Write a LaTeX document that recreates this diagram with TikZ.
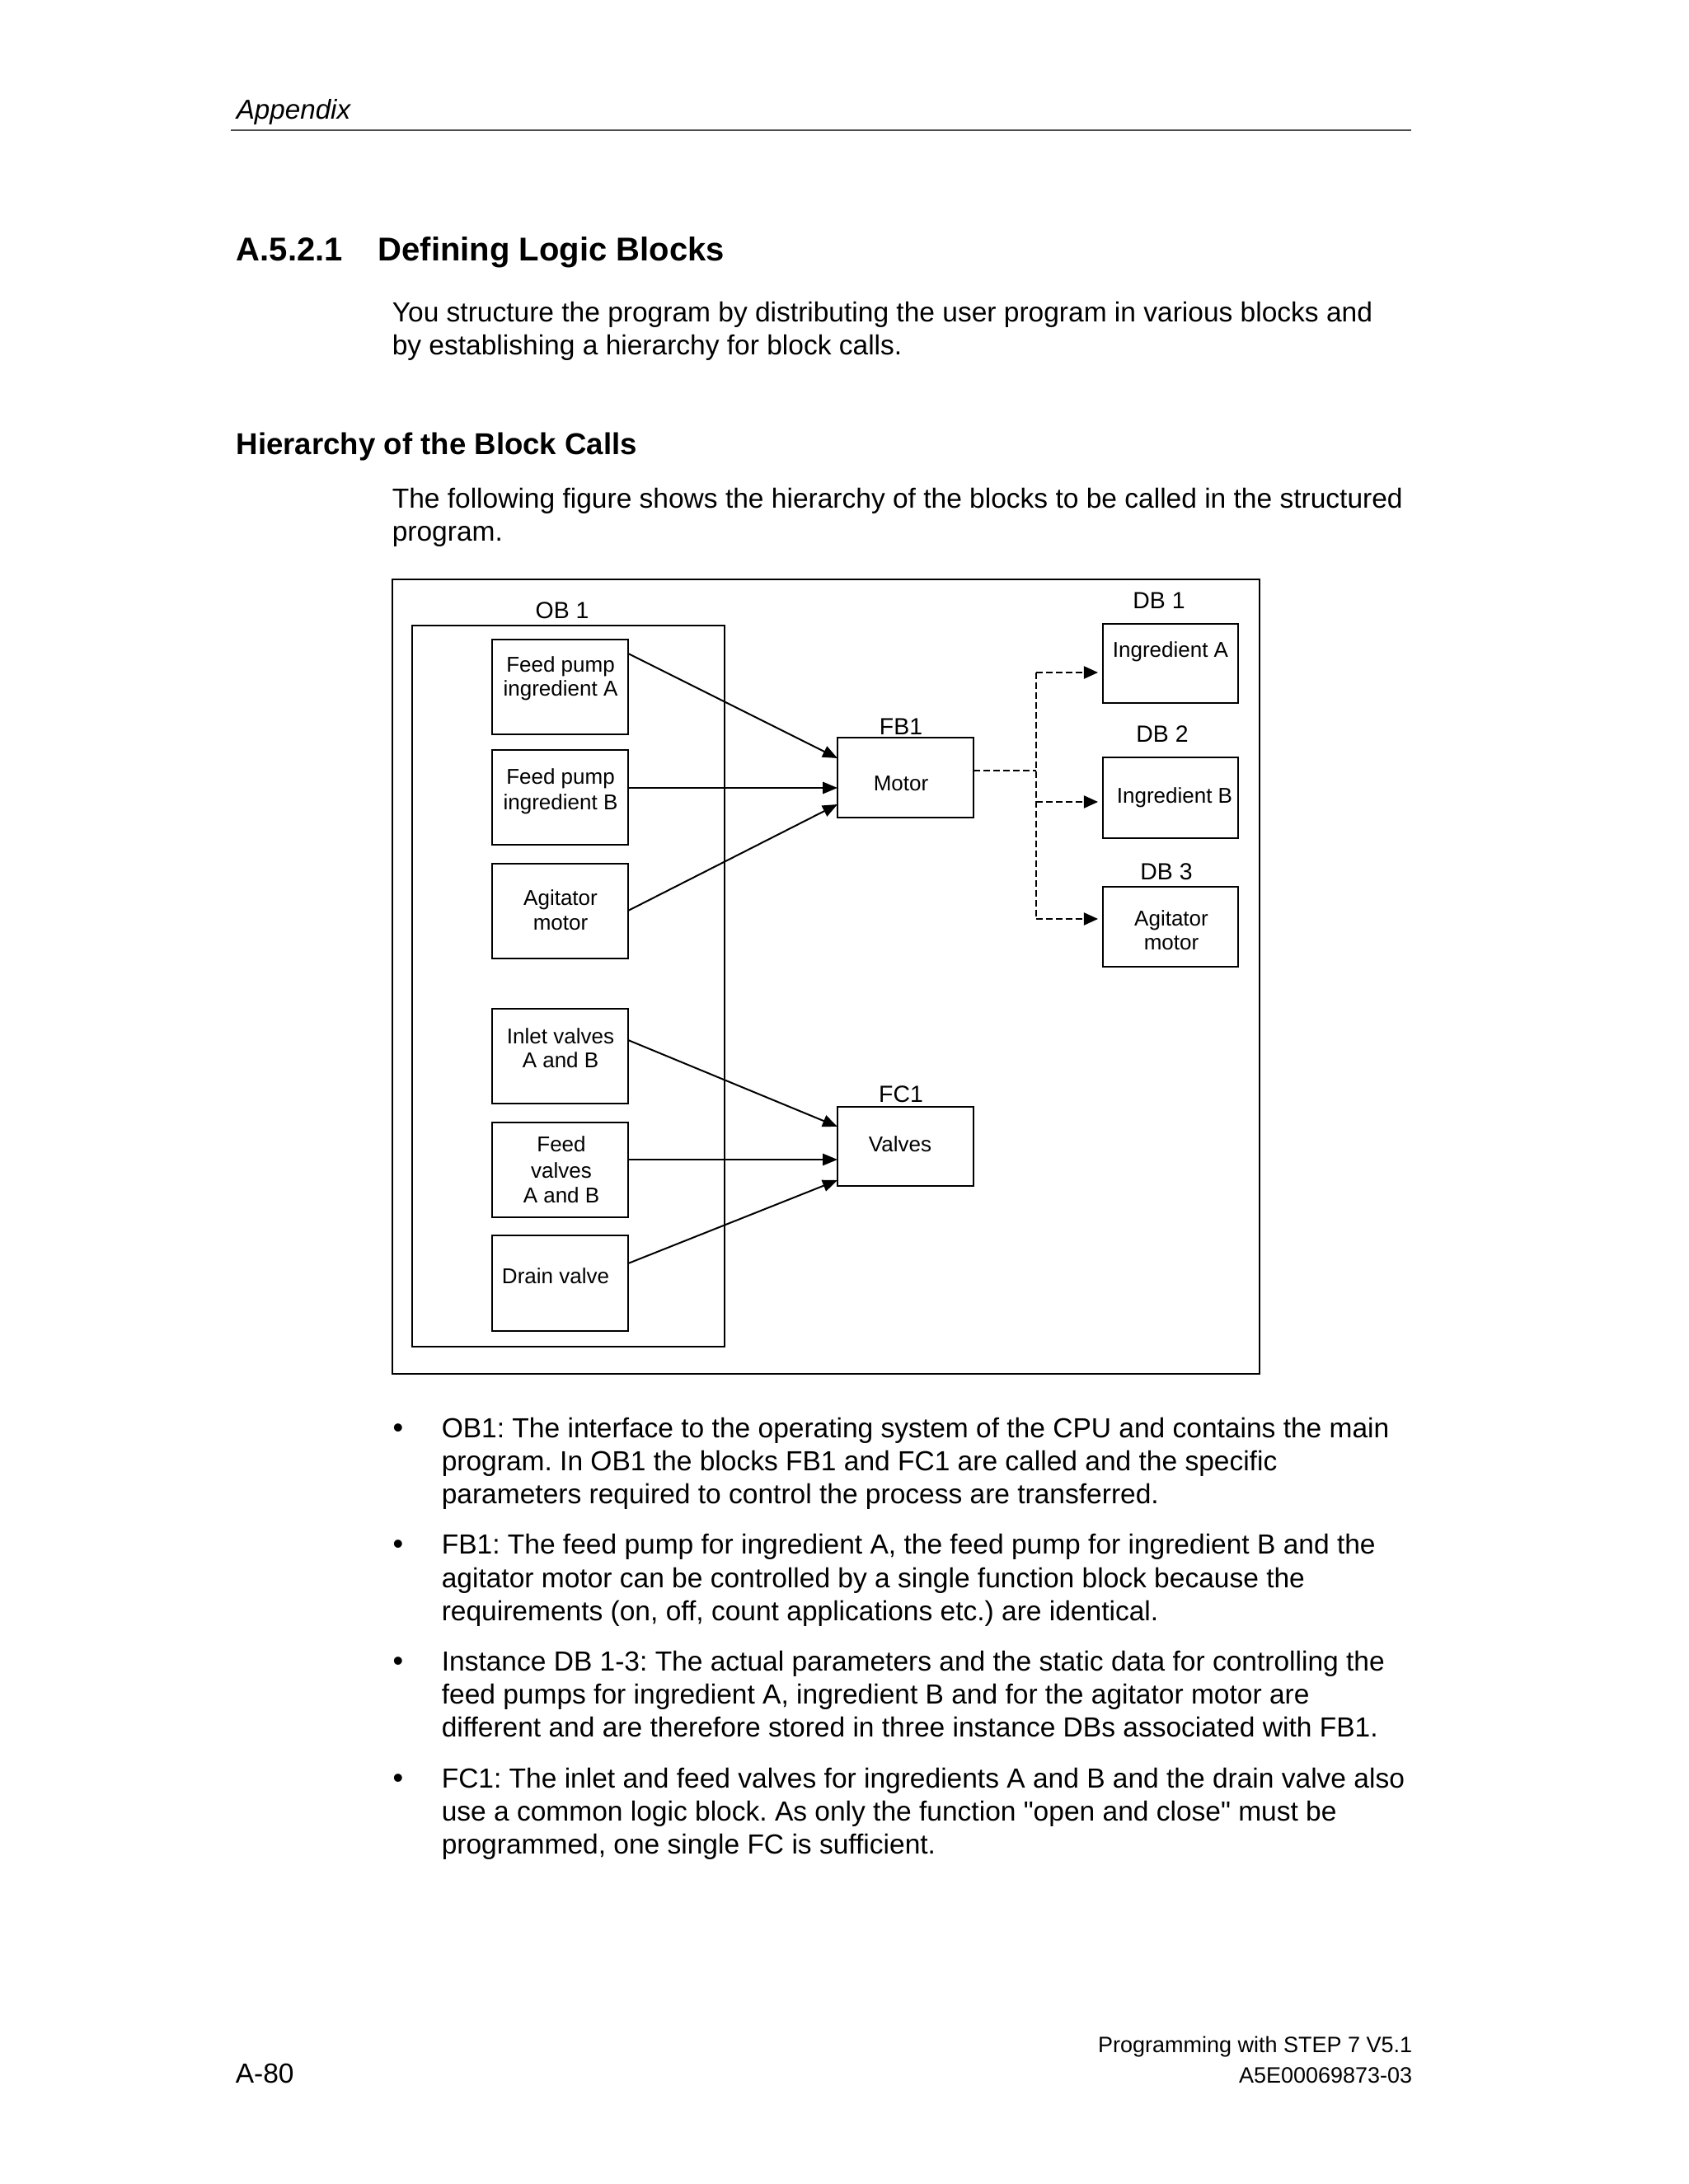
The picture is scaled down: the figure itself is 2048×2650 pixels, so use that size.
\documentclass[tikz,border=0pt]{standalone}
\usepackage{fontspec}
\setmainfont{Liberation Sans}
\usetikzlibrary{arrows.meta,calc,fit}
\frenchspacing
\begin{document}
\frenchspacing
\begin{tikzpicture}[x=0.25pt,y=-0.25pt,
  box/.style={draw, line width=0.5pt, inner sep=0pt, outer sep=0pt},
  body/.style={font=\fontsize{8.38}{10}\selectfont, inner sep=0pt, anchor=base west},
  head/.style={font=\fontsize{10}{12}\selectfont\bfseries, inner sep=0pt, anchor=base west},
  subhead/.style={font=\fontsize{9.15}{11}\selectfont\bfseries, inner sep=0pt, anchor=base west},
  foot/.style={font=\fontsize{6.75}{8}\selectfont, inner sep=0pt, anchor=base east},
  lab/.style={font=\fontsize{7.1}{8.5}\selectfont, inner sep=0pt, anchor=base},
  btxt/.style={font=\fontsize{6.5}{7.5}\selectfont, inner sep=0pt, anchor=base},
  bul/.style={font=\fontsize{9}{10}\selectfont, inner sep=0pt, anchor=base},
  arr/.style={line width=0.5pt, -{Triangle[length=4.5pt,width=3.6pt]}},
  dline/.style={line width=0.5pt, dash pattern=on 2pt off 1pt},
  darr/.style={dline, -{Triangle[length=4.3pt,width=3.8pt]}, shorten >=1.5pt}
]
\useasboundingbox (0,0) rectangle (2048,2650);
\fill[white] (0,0) rectangle (2048,2650);

% page header
\node[body, font=\fontsize{8.3}{10}\selectfont\itshape] (hdr) at (286,145) {Appendix};
\coordinate (ruleL) at (280,158);
\coordinate (ruleR) at (1712,158);
\draw[line width=0.4pt, black!70] (ruleL) -- (ruleR);

% headings and paragraphs
\node[head] (secno) at (286,317) {A.5.2.1};
\node[head] (sectitle) at (458,317) {Defining Logic Blocks};
\node[body] (p1a) at (475,391) {You structure the program by distributing the user program in various blocks and};
\node[body] (p1b) at (475,431) {by establishing a hierarchy for block calls.};
\node[subhead] (sub) at (286,552) {Hierarchy of the Block Calls};
\node[body] (p2a) at (475,617) {The following figure shows the hierarchy of the blocks to be called in the structured};
\node[body] (p2b) at (475,657) {program.};

% figure frame
\node[box, fit={(476,703) (1528,1667)}] (outer) {};
\node[box, fit={(500,759) (879,1634)}] (ob1) {};
\node[lab] (ob1lab) at (682,751) {OB 1};

% OB1 blocks
\node[box, fit={(597,776) (762,891)}] (fpa) {};
\node[btxt] (fpat1) at (680,816) {Feed pump};
\node[btxt] (fpat2) at (680,845) {ingredient A};
\node[box, fit={(597,910) (762,1025)}] (fpb) {};
\node[btxt] (fpbt1) at (680,952) {Feed pump};
\node[btxt] (fpbt2) at (680,982) {ingredient B};
\node[box, fit={(597,1048) (762,1163)}] (agi) {};
\node[btxt] (agit1) at (680,1098) {Agitator};
\node[btxt] (agit2) at (680,1128) {motor};
\node[box, fit={(597,1224) (762,1339)}] (inl) {};
\node[btxt] (inlt1) at (680,1266) {Inlet valves};
\node[btxt] (inlt2) at (680,1295) {A and B};
\node[box, fit={(597,1362) (762,1477)}] (fdv) {};
\node[btxt] (fdvt1) at (681,1397) {Feed};
\node[btxt] (fdvt2) at (681,1429) {valves};
\node[btxt] (fdvt3) at (681,1459) {A and B};
\node[box, fit={(597,1499) (762,1615)}] (drn) {};
\node[btxt] (drnt) at (674,1557) {Drain valve};

% FB1 and FC1
\node[box, fit={(1016,895) (1181,992)}] (motor) {};
\node[lab] (fb1lab) at (1093,892) {FB1};
\node[btxt] (motort) at (1093,960) {Motor};
\node[box, fit={(1016,1343) (1181,1439)}] (valves) {};
\node[lab] (fc1lab) at (1093,1337) {FC1};
\node[btxt] (valvest) at (1092,1397) {Valves};

% DBs
\node[box, fit={(1338,757) (1502,853)}] (db1) {};
\node[lab] (db1lab) at (1406,739) {DB 1};
\node[btxt] (db1t) at (1420,798) {Ingredient A};
\node[box, fit={(1338,919) (1502,1017)}] (db2) {};
\node[lab] (db2lab) at (1410,901) {DB 2};
\node[btxt] (db2t) at (1425,975) {Ingredient B};
\node[box, fit={(1338,1076) (1502,1173)}] (db3) {};
\node[lab] (db3lab) at (1415,1067) {DB 3};
\node[btxt] (db3t1) at (1421,1123) {Agitator};
\node[btxt] (db3t2) at (1421,1152) {motor};

% calls to FB1
\draw[arr] ($(fpa.north east)+(0,17)$) -- ($(motor.north west)+(0,25)$);
\draw[arr] ($(fpb.north east)+(0,46)$) -- ($(motor.north west)+(0,61)$);
\draw[arr] ($(agi.north east)+(0,57)$) -- ($(motor.north west)+(0,81)$);
% calls to FC1
\draw[arr] ($(inl.north east)+(0,38)$) -- ($(valves.north west)+(0,24)$);
\draw[arr] ($(fdv.north east)+(0,45)$) -- ($(valves.north west)+(0,64)$);
\draw[arr] ($(drn.north east)+(0,34)$) -- ($(valves.north west)+(0,89)$);

% instance DBs
\coordinate (split) at (1257,935);
\coordinate (a1) at ($(db1.north west)+(0,59)$);
\coordinate (a2) at ($(db2.north west)+(0,54)$);
\coordinate (a3) at ($(db3.north west)+(0,39)$);
\draw[dline] ($(motor.north east)+(0,40)$) -- (split);
\draw[dline] (split |- a1) -- (split |- a3);
\draw[darr] (split |- a1) -- (a1);
\draw[darr] (split |- a2) -- (a2);
\draw[darr] (split |- a3) -- (a3);

% bullet list
\node[bul] (bu1) at (483,1744) {\textbullet};
\node[body] (b1a) at (535,1744) {OB1: The interface to the operating system of the CPU and contains the main};
\node[body] (b1b) at (535,1784) {program. In OB1 the blocks FB1 and FC1 are called and the specific};
\node[body] (b1c) at (535,1824) {parameters required to control the process are transferred.};
\node[bul] (bu2) at (483,1885) {\textbullet};
\node[body] (b2a) at (535,1885) {FB1: The feed pump for ingredient A, the feed pump for ingredient B and the};
\node[body] (b2b) at (535,1926) {agitator motor can be controlled by a single function block because the};
\node[body] (b2c) at (535,1966) {requirements (on, off, count applications etc.) are identical.};
\node[bul] (bu3) at (483,2027) {\textbullet};
\node[body] (b3a) at (535,2027) {Instance DB 1-3: The actual parameters and the static data for controlling the};
\node[body] (b3b) at (535,2067) {feed pumps for ingredient A, ingredient B and for the agitator motor are};
\node[body] (b3c) at (535,2107) {different and are therefore stored in three instance DBs associated with FB1.};
\node[bul] (bu4) at (483,2169) {\textbullet};
\node[body] (b4a) at (535,2169) {FC1: The inlet and feed valves for ingredients A and B and the drain valve also};
\node[body] (b4b) at (535,2209) {use a common logic block. As only the function \textquotedbl open and close\textquotedbl{} must be};
\node[body] (b4c) at (535,2249) {programmed, one single FC is sufficient.};

% footer
\node[foot] (f1) at (1714,2490) {Programming with STEP 7 V5.1};
\node[foot] (f2) at (1714,2527) {A5E00069873-03};
\node[body] (pg) at (285,2527) {A-80};
\end{tikzpicture}
\end{document}
